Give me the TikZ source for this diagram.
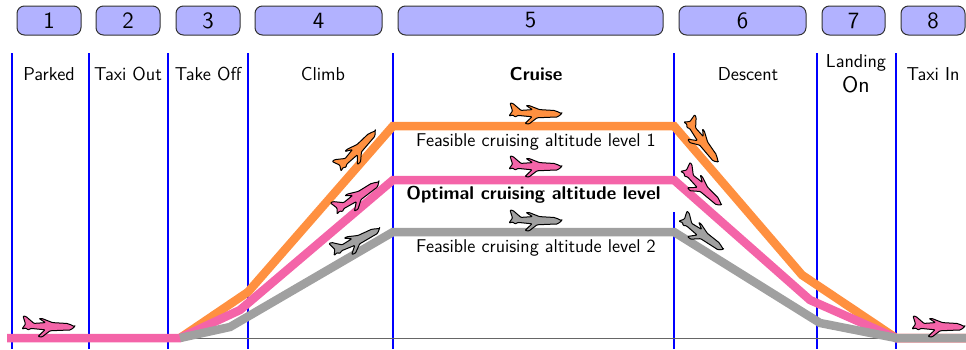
\documentclass[tikz,border=0pt]{standalone}
\tikzset{
  phasebox/.style={draw=black!80,fill=blue!30,rounded corners=4.5pt,line width=0.6pt,minimum height=17.4pt,inner sep=0pt,font=\fontsize{14}{16}\selectfont\sffamily},
  phaselabel/.style={inner sep=0pt,align=center,font=\fontsize{11.2}{13}\selectfont\sffamily},
  altlabel/.style={inner sep=0pt,font=\fontsize{11.1}{13}\selectfont\sffamily},
  divider/.style={blue,line width=0.62pt},
  flight/.style={line width=5.1pt,line join=miter},
  pics/plane/.style={code={
    \draw[fill=#1,draw=black,line width=0.6pt,line join=round,rounded corners=0.5pt]
      (26,0.5) to[out=170,in=0] (17,3.6) -- (3.5,4.4) -- (-7,8.5) -- (-10,8.5) -- (-3.5,4.4)
      -- (-15,3.6) -- (-23,10.5) -- (-26,11) -- (-23.5,3) -- (-27,-2) -- (-23,-1) -- (-21,-3)
      -- (-18,-1.4) -- (-4,-2.8) -- (-11,-9.5) -- (-7,-10) -- (1,-3.8) -- (20,-3) to[out=0,in=-150] (26,0.5) -- cycle;
  }}
}
\definecolor{fltorange}{HTML}{FF9040}
\definecolor{fltpink}{HTML}{F464A8}
\definecolor{fltgray}{HTML}{A0A0A0}
\begin{document}
\begin{tikzpicture}[x=0.6pt,y=-0.6pt]
\useasboundingbox (0,0) rectangle (966,349);
% dividers
\foreach \n/\x in {a/12,b/89,c/168,d/248,e/393,f/674,g/817,h/896}{
  \coordinate (top\n) at (\x,53);
  \coordinate (bot\n) at (\x,349);
  \draw[divider] (top\n) -- (bot\n);
}
% white backing of the optimal-level label
\coordinate (mask0) at (400,183);
\coordinate (mask1) at (678,212);
\fill[white] (mask0) rectangle (mask1);
% baseline
\coordinate (base0) at (180,338);
\coordinate (base1) at (966,338);
\draw[black!60,line width=0.5pt] (base0) -- (base1);
% phase boxes
\foreach \n/\a/\b/\t in {1/17/81/1,2/96/160/2,3/176/240/3,4/255/382/4,5/398/663/5,6/679/806/6,7/822/885/7,8/901/965/8}{
  \node[phasebox,minimum width={(\b-\a)*0.6pt}] (box\n) at ({(\a+\b)/2},20.5) {\t};
}
% phase labels
\node[phaselabel] (lab1) at (49,74) {Parked};
\node[phaselabel] (lab2) at (128,74) {Taxi Out};
\node[phaselabel] (lab3) at (208,74) {Take Off};
\node[phaselabel] (lab4) at (323,74) {Climb};
\node[phaselabel] (lab5) at (536,74) {\bfseries Cruise};
\node[phaselabel] (lab6) at (748,74) {Descent};
\node[phaselabel] (lab7) at (856,74) {Landing\\[2pt]{\fontsize{13.5}{15}\selectfont On}};
\node[phaselabel] (lab8) at (933,74) {Taxi In};
% flight paths
\coordinate (o0) at (180,338);\coordinate (o1) at (248,292);\coordinate (o2) at (393,126);\coordinate (o3) at (674,126);\coordinate (o4) at (802,275);\coordinate (o5) at (896,338);\coordinate (o6) at (966,338);
\coordinate (p00) at (7,338);\coordinate (p1) at (240,310);\coordinate (p2) at (393,180);\coordinate (p3) at (674,180);\coordinate (p4) at (810,300);
\coordinate (g1) at (230,327);\coordinate (g2) at (393,232);\coordinate (g3) at (674,232);\coordinate (g4) at (820,323);
\draw[flight,fltorange] (o0) -- (o1) -- (o2) -- (o3) -- (o4) -- (o5) -- (o6);
\draw[flight,fltpink] (p00) -- (o0) -- (p1) -- (p2) -- (p3) -- (p4) -- (o5) -- (o6);
\draw[flight,fltgray] (o0) -- (g1) -- (g2) -- (g3) -- (g4) -- (o5) -- (o6);
% altitude labels
\node[altlabel] (alt1) at (536,142) {Feasible cruising altitude level 1};
\node[altlabel] (alt2) at (533.5,195) {\bfseries Optimal cruising altitude level};
\node[altlabel] (alt3) at (536,248) {Feasible cruising altitude level 2};
% planes
\begin{scope}[x=0.6pt,y=0.6pt]
\pic at (536,-114) {plane=fltorange};
\pic at (536,-167) {plane=fltpink};
\pic at (536,-221) {plane=fltgray};
\pic[rotate=47] at (358,-150) {plane=fltorange};
\pic[rotate=35] at (358,-197) {plane=fltpink};
\pic[rotate=28] at (357,-241) {plane=fltgray};
\pic[rotate=-52] at (702,-142) {plane=fltorange};
\pic[rotate=-42] at (702,-188) {plane=fltpink};
\pic[rotate=-35] at (702,-235) {plane=fltgray};
\pic at (49,-327) {plane=fltpink};
\pic at (939,-327) {plane=fltpink};
\end{scope}
\end{tikzpicture}
\end{document}
